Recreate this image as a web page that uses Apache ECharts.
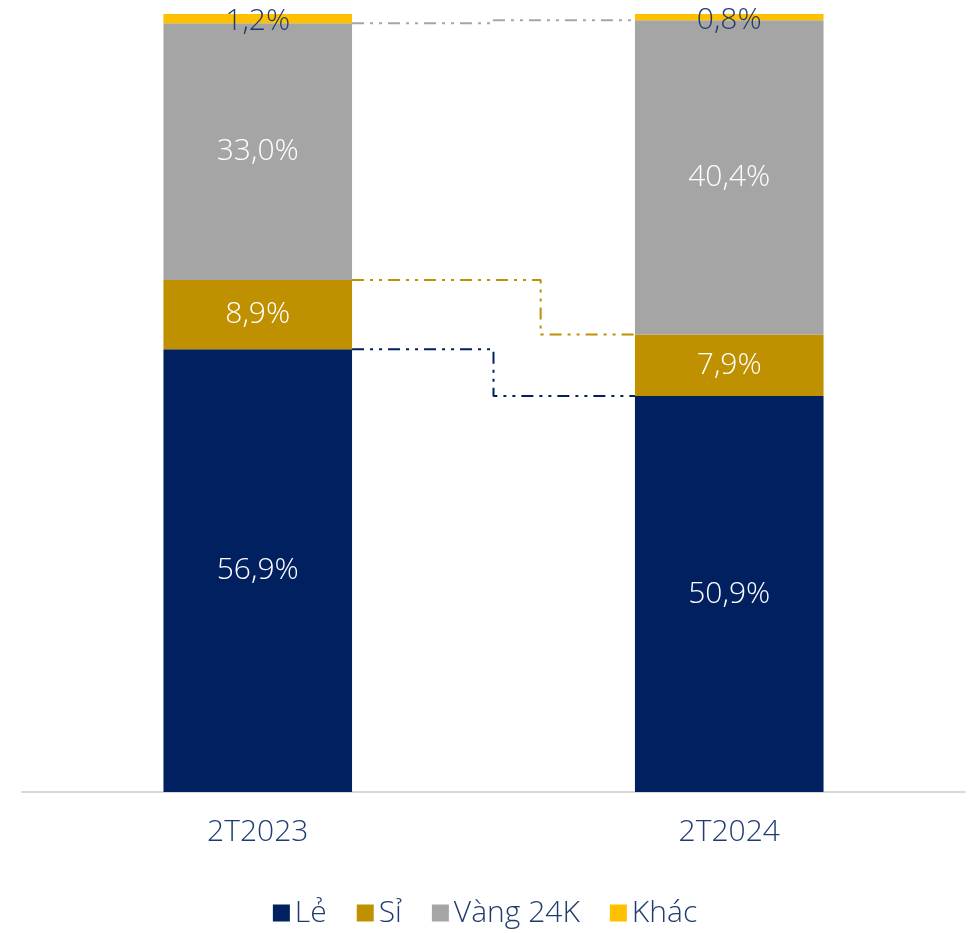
<!DOCTYPE html>
<html>
<head>
<meta charset="utf-8">
<script src="https://cdn.jsdelivr.net/npm/echarts@6/dist/echarts.min.js"></script>
<style>
    html, body { margin: 0; padding: 0; background: #fff; }
    #chart { width: 970px; height: 933px; }
</style>
</head>
<body>
<div id="chart"></div>
<script>
// categories and shares (%)
const periods = ['2T2023', '2T2024'];
const seriesNames = ['Lẻ', 'Sỉ', 'Vàng 24K', 'Khác'];
const le = [56.9, 50.9];
const si = [8.9, 7.9];
const vang24k = [33.0, 40.4];
const khac = [1.2, 0.8];

const colors = ['#002060', '#BF9000', '#A5A5A5', '#FFC000'];
const textNavy = '#1F3B6F';
const font = 'Open Sans';

const values = [le, si, vang24k, khac];

function fmt (v) {
    return v.toFixed(1).replace('.', ',') + '%';
}

// running totals, to place the connector lines on the stack tops
function cumTop (idx, p) {
    let s = 0;
    for (let i = 0; i <= idx; i++) s += values[i][p];
    return +s.toFixed(2);
}

const barSeries = seriesNames.map((name, i) => ({
    name: name,
    type: 'bar',
    stack: 'total',
    xAxisIndex: 0,
    barCategoryGap: '60%',
    itemStyle: { color: colors[i] },
    label: {
        show: true,
        position: 'inside',
        offset: i === 3 ? [0, 3] : [0, 0],
        color: i === 3 ? textNavy : '#fff',
        fontFamily: font,
        fontWeight: 300,
        fontSize: 30,
        formatter: p => fmt(p.value)
    },
    data: values[i]
}));

// step connectors between the two bars (x in a hidden 0..2 axis)
const stepX = [1.0, 1.1, 1.0];
const connectors = [0, 1, 2].map(i => {
    const a = cumTop(i, 0), b = cumTop(i, 1);
    return {
        type: 'line',
        xAxisIndex: 1,
        silent: true,
        symbol: 'none',
        z: 1,
        lineStyle: {
            color: colors[i],
            width: 2,
            type: [12, 6, 3, 6, 3, 6]
        },
        data: [[0.7, a], [stepX[i], a], [stepX[i], b], [1.3, b]]
    };
});

const chart = echarts.init(document.getElementById('chart'));
chart.setOption({
    backgroundColor: '#fff',
    animation: false,
    grid: {
        left: 22,
        right: 5,
        top: 14,
        bottom: 141
    },
    legend: {
        data: seriesNames,
        bottom: 0,
        left: 'center',
        itemWidth: 17,
        itemHeight: 17,
        itemGap: 30,
        icon: 'rect',
        textStyle: {
            color: textNavy,
            fontFamily: font,
            fontWeight: 300,
            fontSize: 30
        }
    },
    xAxis: [{
        type: 'category',
        data: periods,
        axisLine: { lineStyle: { color: '#D9D9D9', width: 2 } },
        axisTick: { show: false },
        axisLabel: {
            color: textNavy,
            fontFamily: font,
            fontWeight: 300,
            fontSize: 30,
            margin: 25
        }
    }, {
        type: 'value',
        min: 0,
        max: 2,
        show: false
    }],
    yAxis: {
        type: 'value',
        min: 0,
        max: 100,
        show: false
    },
    series: barSeries.concat(connectors)
});
</script>
</body>
</html>
